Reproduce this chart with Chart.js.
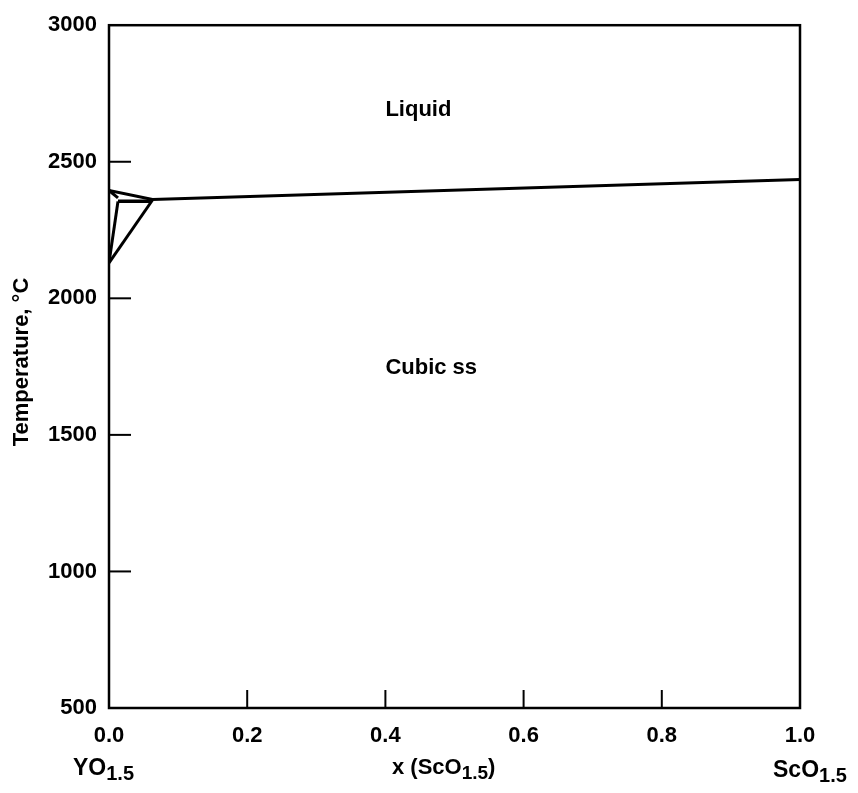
<!DOCTYPE html>
<html>
<head>
<meta charset="utf-8">
<script src="https://cdn.jsdelivr.net/npm/chart.js@4.4.1/dist/chart.umd.min.js"></script>
<style>
html,body{margin:0;padding:0;background:#fff;}
#wrap{width:858px;height:793px;}
</style>
</head>
<body>
<div id="wrap"><canvas id="c" width="858" height="793"></canvas></div>
<script>
// ---- data ----
const xTickValues = [0, 0.2, 0.4, 0.6, 0.8, 1.0];
const yTickValues = [500, 1000, 1500, 2000, 2500, 3000];
// liquidus
const liquidusX = [0, 0.063, 1.0];
const liquidusT = [2395, 2362, 2435];
// short upper-left segment
const upperLeftX = [0, 0.013];
const upperLeftT = [2395, 2368];
// eutectic horizontal
const eutecticX = [0.013, 0.062];
const eutecticT = [2355, 2355];
// left solidus
const leftSolidusX = [0.013, 0];
const leftSolidusT = [2355, 2130];
// right boundary
const rightBoundaryX = [0.063, 0];
const rightBoundaryT = [2360, 2130];
// region labels
const regionLabels = ["Liquid", "Cubic ss"];
const regionLabelX = [0.40, 0.40];
const regionLabelT = [2690, 1745];

function pts(xs, ys){ return xs.map((x,i)=>({x:x, y:ys[i]})); }
function ds(xs, ys, w){
  return {data: pts(xs, ys), showLine: true, borderColor: '#000', borderWidth: w,
          pointRadius: 0, tension: 0, fill: false};
}

const FONT = 'Liberation Sans, Arial, Helvetica, sans-serif';

function drawSub(ctx, main, sub, x, y, size){
  ctx.font = 'bold ' + size + 'px ' + FONT;
  ctx.textAlign = 'left';
  ctx.textBaseline = 'alphabetic';
  ctx.fillText(main, x, y);
  const w = ctx.measureText(main).width;
  ctx.font = 'bold ' + Math.round(size*0.85) + 'px ' + FONT;
  ctx.fillText(sub, x + w, y + 5);
  return w + ctx.measureText(sub).width;
}

const decor = {
  id: 'decor',
  afterDraw(chart){
    const ctx = chart.ctx;
    const a = chart.chartArea;
    const xs = chart.scales.x, ys = chart.scales.y;
    ctx.save();
    ctx.strokeStyle = '#000';
    ctx.lineWidth = 2.5;
    ctx.strokeRect(a.left, a.top, a.right - a.left, a.bottom - a.top);
    // inward ticks
    ctx.lineWidth = 2;
    xTickValues.slice(1, -1).forEach(v => {
      const px = xs.getPixelForValue(v);
      ctx.beginPath(); ctx.moveTo(px, a.bottom); ctx.lineTo(px, a.bottom - 18); ctx.stroke();
    });
    yTickValues.slice(1, -1).forEach(v => {
      const py = ys.getPixelForValue(v);
      ctx.beginPath(); ctx.moveTo(a.left, py); ctx.lineTo(a.left + 22, py); ctx.stroke();
    });
    ctx.fillStyle = '#000';
    // region labels
    ctx.font = 'bold 22px ' + FONT;
    ctx.textAlign = 'left';
    ctx.textBaseline = 'middle';
    regionLabels.forEach((t, i) => {
      ctx.fillText(t, xs.getPixelForValue(regionLabelX[i]), ys.getPixelForValue(regionLabelT[i]));
    });
    // bottom labels
    drawSub(ctx, 'YO', '1.5', 73, 775, 23);
    const wx = drawSub(ctx, 'x (ScO', '1.5', 392, 774, 22);
    ctx.font = 'bold 22px ' + FONT;
    ctx.textAlign = 'left';
    ctx.fillText(')', 392 + wx, 774);
    drawSub(ctx, 'ScO', '1.5', 773, 777, 23);
    // y title
    ctx.save();
    ctx.translate(22, 362);
    ctx.rotate(-Math.PI/2);
    ctx.font = 'bold 22px ' + FONT;
    ctx.textAlign = 'center';
    ctx.textBaseline = 'middle';
    ctx.fillText('Temperature, °C', 0, 0);
    ctx.restore();
    ctx.restore();
  }
};

new Chart(document.getElementById('c'), {
  type: 'scatter',
  data: {
    datasets: [
      ds(liquidusX, liquidusT, 3),
      ds(upperLeftX, upperLeftT, 3),
      ds(eutecticX, eutecticT, 3.5),
      ds(leftSolidusX, leftSolidusT, 3),
      ds(rightBoundaryX, rightBoundaryT, 3)
    ]
  },
  options: {
    responsive: false,
    animation: false,
    layout: {padding: {top: 18, right: 58, left: 0, bottom: 0}},
    plugins: {legend: {display: false}, tooltip: {enabled: false}},
    scales: {
      x: {
        type: 'linear', min: 0, max: 1,
        afterBuildTicks(scale){ scale.ticks = xTickValues.map(v => ({value: v})); },
        afterFit(scale){ scale.height = 85; },
        grid: {display: false, drawTicks: false},
        border: {display: false},
        ticks: {
          padding: 15, color: '#000', maxRotation: 0, autoSkip: false,
          font: {family: FONT, size: 22, weight: 'bold'},
          callback: v => Number(v).toFixed(1)
        }
      },
      y: {
        type: 'linear', min: 500, max: 3000,
        afterBuildTicks(scale){ scale.ticks = yTickValues.map(v => ({value: v})); },
        afterFit(scale){ scale.width = 109; },
        grid: {display: false, drawTicks: false},
        border: {display: false},
        ticks: {
          padding: 12, color: '#000', autoSkip: false,
          font: {family: FONT, size: 22, weight: 'bold'},
          callback: v => String(v)
        }
      }
    }
  },
  plugins: [decor]
});
</script>
</body>
</html>
